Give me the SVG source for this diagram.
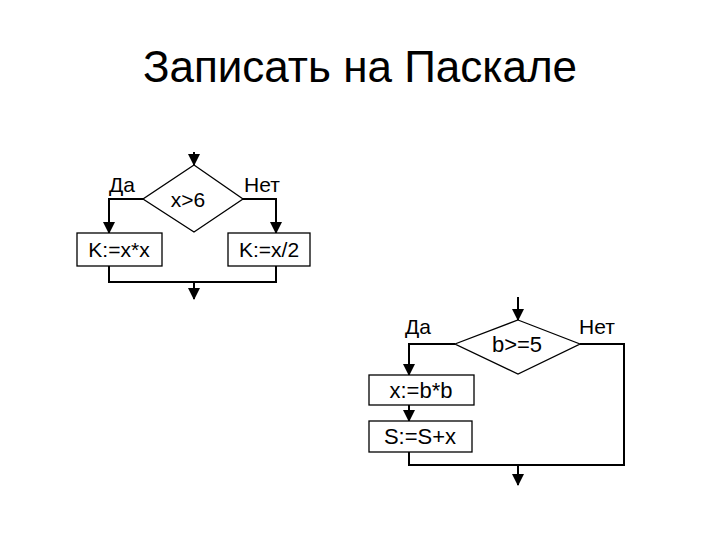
<svg xmlns="http://www.w3.org/2000/svg" width="720" height="540" viewBox="0 0 720 540">
<style>
.l{stroke:#000;stroke-width:2;fill:none}
.s{stroke:#000;stroke-width:1.3;fill:#fff}
.t{font-family:"Liberation Sans",Arial,sans-serif;fill:#000}
</style>
<defs><marker id="a" markerWidth="12" markerHeight="12" refX="11" refY="6" orient="auto" markerUnits="userSpaceOnUse"><path d="M0,0L12,6L0,12z"/></marker></defs>
<rect width="720" height="540" fill="#fff"/>
<text class="t" x="360" y="82" font-size="44" text-anchor="middle">Записать на Паскале</text>
<g id="connectors">
<path class="l" d="M194,152V165" marker-end="url(#a)"/>
<path class="l" d="M143,199H109V233" marker-end="url(#a)"/>
<path class="l" d="M243,199H276V233" marker-end="url(#a)"/>
<path class="l" d="M109,266V282H276V266"/>
<path class="l" d="M194,282V299" marker-end="url(#a)"/>
<path class="l" d="M518,297V320" marker-end="url(#a)"/>
<path class="l" d="M455,344H409V375" marker-end="url(#a)"/>
<path class="l" d="M409,405V421" marker-end="url(#a)"/>
<path class="l" d="M409,452V465H624V344H580"/>
<path class="l" d="M518,465V485" marker-end="url(#a)"/>
</g>
<g id="d1"><polygon class="s" points="194,165 243,199 194,232 143,199"/><text class="t" x="188" y="207" font-size="21" text-anchor="middle">x&gt;6</text></g>
<g id="b1"><rect class="s" x="77" y="233" width="85" height="33"/><text class="t" x="119" y="257" font-size="21" text-anchor="middle">K:=x*x</text></g>
<g id="b2"><rect class="s" x="228" y="233" width="82" height="33"/><text class="t" x="269" y="257" font-size="21" text-anchor="middle">K:=x/2</text></g>
<text class="t" x="109" y="192" font-size="21">Да</text>
<text class="t" x="244" y="192" font-size="21">Нет</text>
<g id="d2"><polygon class="s" points="518,320 580,344 518,374 455,344"/><text class="t" x="517" y="352" font-size="22" text-anchor="middle">b&gt;=5</text></g>
<g id="b3"><rect class="s" x="369" y="375" width="105" height="30"/><text class="t" x="421" y="398" font-size="22" text-anchor="middle">x:=b*b</text></g>
<g id="b4"><rect class="s" x="369" y="421" width="103" height="31"/><text class="t" x="420" y="444" font-size="22" text-anchor="middle">S:=S+x</text></g>
<text class="t" x="405" y="334" font-size="21">Да</text>
<text class="t" x="579" y="334" font-size="21">Нет</text>
</svg>
